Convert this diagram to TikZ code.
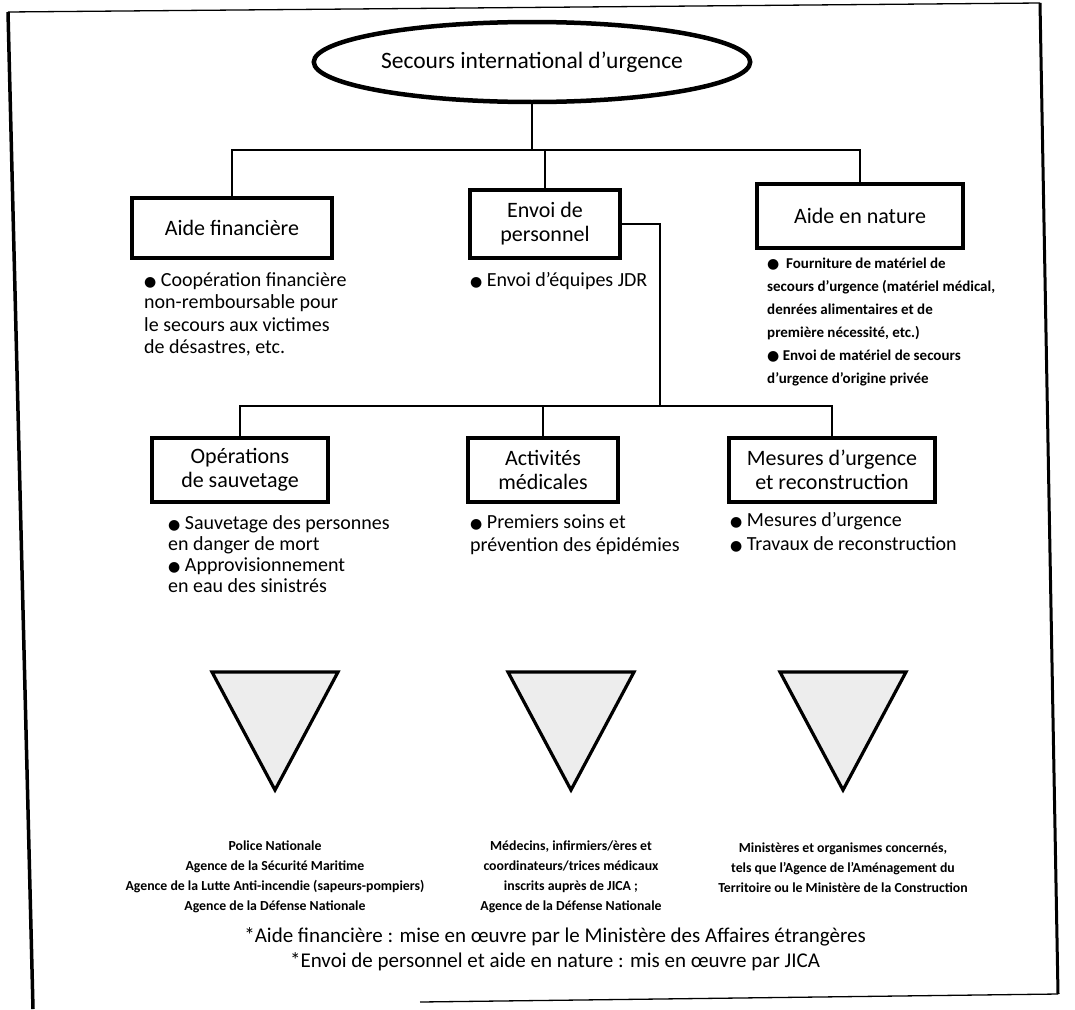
\documentclass[tikz,border=0pt]{standalone}
\usepackage{fontspec}
\setmainfont{Carlito}
\newfontfamily\symfont{DejaVu Sans}
\newcommand\bul{{\symfont\fontsize{14}{14}\selectfont ●}}
\usetikzlibrary{shapes.geometric,calc}
\begin{document}
\begin{tikzpicture}[x=1pt,y=-1pt,
  box/.style={draw,line width=3.5pt,align=center,font=\fontsize{22}{24}\selectfont,inner sep=2pt},
  conn/.style={line width=2pt},
  bultext/.style={anchor=north west,align=left,inner sep=0pt,font=\fontsize{20}{22.5}\selectfont},
  smallbul/.style={anchor=north west,align=left,inner sep=0pt,font=\bfseries\fontsize{15}{23}\selectfont},
  agency/.style={anchor=north,align=center,inner sep=0pt,font=\bfseries\fontsize{13.8}{20}\selectfont},
  foot/.style={anchor=north,align=center,inner sep=0pt,font=\fontsize{21}{25}\selectfont},
  tri/.style={draw,line width=3.2pt,fill=black!7,line join=miter}
]
\useasboundingbox (0,0) rectangle (1075,1009);
% frame
\draw[line width=3.5pt] (8,12) -- (33,1009);
\draw[line width=3pt] (1040,3) -- (1058,994);
\draw[line width=1.3pt] (8,12) -- (1040,3);
\draw[line width=1.3pt] (420,1002) -- (1058,994);

% top ellipse
\node[ellipse,draw,line width=4.5pt,minimum width=362pt,minimum height=80pt,font=\fontsize{23.5}{25}\selectfont] (root) at (532,62) {Secours international d'urgence};

% first row
\node[box,minimum width=200pt,minimum height=60pt] (af) at (232,228) {Aide financière};
\node[box,minimum width=150pt,minimum height=68pt] (ep) at (545,224) {Envoi de\\personnel};
\node[box,minimum width=206pt,minimum height=64pt] (an) at (860,216) {Aide en nature};
\coordinate (j1) at (532,150);
\draw[conn] (root.south) -- (j1);
\draw[conn] (af.north) -- (af.north |- j1) -- (an.north |- j1) -- (an.north);
\draw[conn] (ep.north) -- (ep.north |- j1);

\node[bultext] (afb) at (144,272) {\bul\ Coopération financière\\non-remboursable pour\\le secours aux victimes\\de désastres, etc.};
\node[bultext] (epb) at (470,272) {\bul\ Envoi d'équipes JDR};
\node[smallbul] (anb) at (767,258) {\bul\ \ Fourniture de matériel de\\secours d'urgence (matériel médical,\\denrées alimentaires et de\\première nécessité, etc.)\\\bul\ Envoi de matériel de secours\\d'urgence d'origine privée};

% second row
\coordinate (j2) at (660,406);
\node[box,minimum width=176pt,minimum height=64pt] (op) at (240,470) {Opérations\\de sauvetage};
\node[box,minimum width=150pt,minimum height=64pt] (am) at (543,470) {Activités\\médicales};
\node[box,minimum width=206pt,minimum height=64pt] (mu) at (832,470) {Mesures d'urgence\\et reconstruction};
\draw[conn] (ep.east) -| (j2);
\draw[conn] (op.north) -- (op.north |- j2) -- (mu.north |- j2) -- (mu.north);
\draw[conn] (am.north) -- (am.north |- j2);

\node[bultext,font=\fontsize{20}{21}\selectfont] (opb) at (168,515) {\bul\ Sauvetage des personnes\\en danger de mort\\\bul\ Approvisionnement\\en eau des sinistrés};
\node[bultext,font=\fontsize{20}{23}\selectfont] (amb) at (470,515) {\bul\ Premiers soins et\\prévention des épidémies};
\node[bultext,font=\fontsize{20}{24}\selectfont] (mub) at (730,512) {\bul\ Mesures d'urgence\\\bul\ Travaux de reconstruction};

% triangles
\foreach \cx/\nm in {275/t1,571/t2,843/t3}{
  \coordinate (\nm a) at (\cx-63,672);
  \coordinate (\nm b) at (\cx+63,672);
  \coordinate (\nm c) at (\cx,790);
  \draw[tri] (\nm a) -- (\nm b) -- (\nm c) -- cycle;
}

% agencies
\node[agency] (ag1) at (275,841) {Police Nationale\\Agence de la Sécurité Maritime\\Agence de la Lutte Anti-incendie (sapeurs-pompiers)\\Agence de la Défense Nationale};
\node[agency] (ag2) at (571,841) {Médecins, infirmiers/ères et\\coordinateurs/trices médicaux\\inscrits auprès de JICA ;\\Agence de la Défense Nationale};
\node[agency] (ag3) at (843,843) {Ministères et organismes concernés,\\tels que l'Agence de l'Aménagement du\\Territoire ou le Ministère de la Construction};

% footnotes
\node[foot] (fn) at (555,927) {*Aide financière : mise en œuvre par le Ministère des Affaires étrangères\\*Envoi de personnel et aide en nature : mis en œuvre par JICA};
\end{tikzpicture}
\end{document}
